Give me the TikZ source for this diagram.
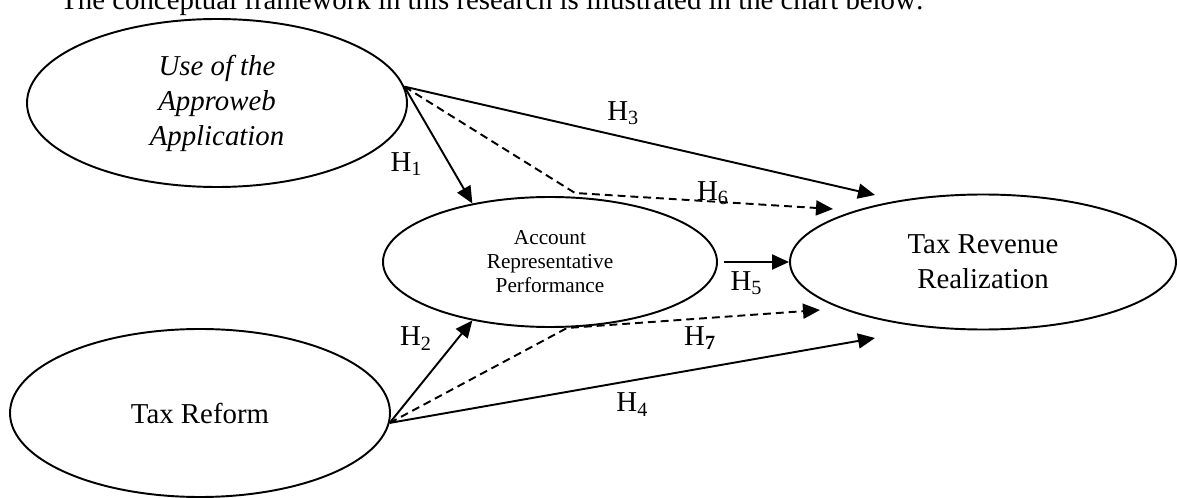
\documentclass[tikz,border=0pt]{standalone}
\usepackage{fontspec}
\setmainfont{Liberation Serif}
\usetikzlibrary{shapes.geometric,arrows.meta}

\newcommand{\bigtxt}{\fontsize{16.4pt}{19.9pt}\selectfont}
\newcommand{\smalltxt}{\fontsize{12.1pt}{13.7pt}\selectfont}

\tikzstyle{ell} = [ellipse, draw=black, line width=1.1pt, inner sep=0pt, align=center, font=\bigtxt]
\tikzstyle{arrow} = [line width=1.1pt,->,>={Triangle[length=3.4mm,width=3mm]}]
\tikzstyle{dasharrow} = [arrow, dash pattern=on 4.5pt off 2.8pt]
\tikzstyle{hyp} = [font=\bigtxt]

\begin{document}
\begin{tikzpicture}
\useasboundingbox (0,0) rectangle (23.54,-9.96);

% text above and below the chart (cut by the page)
\node (intro) [anchor=base west, font=\bigtxt, inner sep=0pt] at (1.2,-0.2) {The conceptual framework in this research is illustrated in the chart below:};
\node (caption) [anchor=base west, font=\bigtxt, inner sep=0pt] at (13.36,-10.56) {\textbf{Figure 1.} Conceptual Framework};

% Variables
\node (use) [ell, minimum width=7.6cm, minimum height=3.36cm] at (4.34,-2.06) {\itshape Use of the\\\itshape Approweb\\\itshape Application};
\node (arp) [ell, minimum width=6.68cm, minimum height=2.6cm, font=\smalltxt, right of=use, xshift=5.66cm, yshift=-3.18cm] {Account\\Representative\\Performance};
\node (trr) [ell, minimum width=7.72cm, minimum height=2.7cm, right of=arp, xshift=7.66cm] {Tax Revenue\\Realization};
\node (tr) [ell, minimum width=7.6cm, minimum height=3.36cm, below of=use, xshift=-0.34cm, yshift=-5.2cm] {Tax Reform};

\coordinate (h3end) at (17.5,-3.9);
\coordinate (h6bend) at (11.5,-3.86);
\coordinate (h6end) at (16.66,-4.18);
\coordinate (h7bend) at (11.34,-6.56);
\coordinate (h7end) at (16.4,-6.2);
\coordinate (h4end) at (17.5,-6.76);

% Hypotheses
\draw [arrow] (use.5) --node[hyp, pos=0.664, xshift=-0.86cm] {H\textsubscript{1}} (arp.143);
\draw [arrow] (use.5) --node[hyp, pos=0.465, yshift=0.48cm] {H\textsubscript{3}} (h3end);
\draw [dasharrow] (use.5) -- (h6bend) --node[hyp, pos=0.535, yshift=0.17cm] {H\textsubscript{6}} (h6end);
\draw [arrow, shorten <=0.12cm] (arp.east) --node[hyp, pos=0.4, yshift=-0.42cm] {H\textsubscript{5}} (trr.west);
\draw [arrow] (tr.-3) --node[hyp, pos=0.825, xshift=-0.84cm] {H\textsubscript{2}} (arp.217);
\draw [dasharrow] (tr.-3) -- (h7bend) --node[hyp, pos=0.526, yshift=-0.39cm] {H\textsubscript{\textbf{7}}} (h7end);
\draw [arrow] (tr.-3) --node[hyp, pos=0.5, yshift=-0.48cm] {H\textsubscript{4}} (h4end);
\end{tikzpicture}
\end{document}
